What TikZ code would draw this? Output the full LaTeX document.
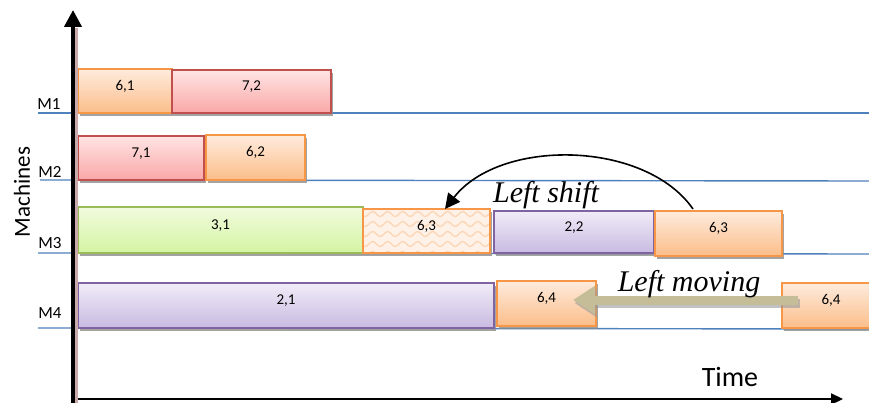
\documentclass[tikz,border=0pt]{standalone}
\usepackage{fontspec}
\setmainfont{Carlito}
\newfontfamily\capfont{Liberation Serif}
\usetikzlibrary{arrows.meta,shadows,fit,decorations.pathmorphing}
\definecolor{jOrange}{HTML}{F79646}
\definecolor{jOrangeT}{HTML}{FEEBDD}
\definecolor{jOrangeB}{HTML}{FBBE8A}
\definecolor{jRed}{HTML}{C0504D}
\definecolor{jRedT}{HTML}{FFE4E4}
\definecolor{jRedB}{HTML}{FAA7A7}
\definecolor{jGreen}{HTML}{9BBB59}
\definecolor{jGreenT}{HTML}{F1FBDE}
\definecolor{jGreenB}{HTML}{D4F4A2}
\definecolor{jPurple}{HTML}{8064A2}
\definecolor{jPurpleT}{HTML}{F1ECF8}
\definecolor{jPurpleB}{HTML}{C8BAE1}
\definecolor{mLine}{HTML}{4F81BD}
\definecolor{khaki}{HTML}{C4BD97}
\definecolor{axShade}{HTML}{C9A9A9}
\tikzset{
  jobbox/.style={draw, line width=1.3pt, inner sep=0pt,
    font=\fontsize{15}{15}\selectfont,
    drop shadow={shadow xshift=1.5pt, shadow yshift=-3pt, fill=black!45, opacity=0.8}},
  orangejob/.style={jobbox, draw=jOrange, top color=jOrangeT, bottom color=jOrangeB},
  redjob/.style={jobbox, draw=jRed, top color=jRedT, bottom color=jRedB},
  greenjob/.style={jobbox, draw=jGreen, top color=jGreenT, bottom color=jGreenB},
  purplejob/.style={jobbox, draw=jPurple, top color=jPurpleT, bottom color=jPurpleB},
  wave/.style={draw=jOrange!40, line width=1.3pt, decorate,
    decoration={snake, amplitude=2.5pt, segment length=15pt}},
  patjob/.style={jobbox, draw=jOrange, fill=jOrangeT!70,
    path picture={
      \foreach \k in {0,...,5}
        \draw[wave] ([xshift=-10pt, yshift=-5pt-\k*10pt]path picture bounding box.north west)
          -- ([xshift=10pt, yshift=-5pt-\k*10pt]path picture bounding box.north east);
    }},
  mline/.style={draw=mLine, line width=1.4pt},
  mlabel/.style={font=\fontsize{17}{17}\selectfont, inner sep=0pt},
  bigital/.style={font=\capfont\itshape\fontsize{30}{30}\selectfont, inner sep=0pt},
}
\begin{document}
\begin{tikzpicture}[x=1pt,y=-1pt]
\useasboundingbox (0,0) rectangle (869,403);
\clip (0,0) rectangle (869,403);
\fill[white] (0,0) rectangle (869,403);

% machine lines
\coordinate (m1a) at (38,113); \coordinate (m1b) at (869,113);
\coordinate (m2a) at (40,180); \coordinate (m2b) at (869,181);
\coordinate (m3a) at (38,253); \coordinate (m3b) at (869,254);
\coordinate (m4a) at (38,328); \coordinate (m4b) at (869,329);
\draw[mline] (m1a) -- (m1b);
\draw[mline] (m2a) -- (m2b);
\draw[mline] (m3a) -- (m3b);
\draw[mline] (m4a) -- (m4b);

\node[mlabel] (M1) at (49,104) {M1};
\node[mlabel] (M2) at (50,172) {M2};
\node[mlabel] (M3) at (50,243) {M3};
\node[mlabel] (M4) at (50,313) {M4};

% jobs row 1
\node[orangejob, fit={(78,69) (172,113)}] (j61) {6,1};
\node[redjob, fit={(172,70) (331,113)}] (j72) {7,2};
% row 2
\node[redjob, fit={(78,136) (204,180)}] (j71) {7,1};
\node[orangejob, fit={(206,135) (305,180)}] (j62) {6,2};
% row 3
\node[greenjob, fit={(78,207) (363,253)}] (j31) {3,1};
\node[patjob, fit={(363,209) (490,253)}] (j63a) {6,3};
\node[purplejob, fit={(494,211) (654,253)}] (j22) {2,2};
\node[orangejob, fit={(655,211) (782,256)}] (j63b) {6,3};
% row 4
\node[purplejob, fit={(78,283) (494,328)}] (j21) {2,1};
\node[orangejob, fit={(497,281) (596,326)}] (j64a) {6,4};
\node[orangejob, fit={(782,283) (880,328)}] (j64b) {6,4};

% left shift
\coordinate (lsA) at (693,209);
\coordinate (lsB) at (445,209);
\draw[line width=1.6pt, -{Triangle[length=15pt, width=15pt]}]
  (lsA) .. controls (645,140) and (500,138) .. (lsB);
\node[bigital] (ls) at (546,195) {Left shift};

% left moving
\coordinate (lmA) at (798,300);
\coordinate (lmB) at (573,300);
\draw[line width=9pt, black!40, opacity=0.6, -{Triangle[length=22pt, width=27pt]}]
  ([xshift=1.5pt,yshift=-3pt]lmA) -- ([xshift=1.5pt,yshift=-3pt]lmB);
\draw[line width=9pt, khaki, -{Triangle[length=22pt, width=27pt]}] (lmA) -- (lmB);
\node[bigital] (lm) at (689,284) {Left moving};

% axes
\draw[line width=3pt, axShade] (76,28) -- (76,403);
\coordinate (vA) at (73,403);
\coordinate (vB) at (73,10);
\draw[line width=4pt, -{Triangle[length=17pt, width=17pt]}] (vA) -- (vB);
\coordinate (hA) at (78,399);
\coordinate (hB) at (843,399);
\draw[line width=2.2pt, -{Triangle[length=12pt, width=11pt]}] (hA) -- (hB);

\node[font=\fontsize{28}{28}\selectfont, inner sep=0pt] (time) at (730,377) {Time};
\node[font=\fontsize{23}{23}\selectfont, inner sep=0pt, rotate=90] (mach) at (22,192) {Machines};
\end{tikzpicture}
\end{document}
